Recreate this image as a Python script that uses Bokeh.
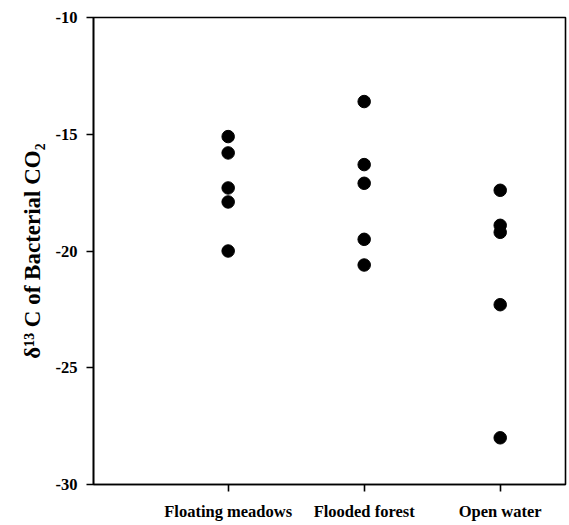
from bokeh.plotting import figure
from bokeh.models import FixedTicker, Range1d
from bokeh.embed import file_html
from bokeh.resources import INLINE

categories = ["Floating meadows", "Flooded forest", "Open water"]
floating_meadows = [-15.1, -15.8, -17.3, -17.9, -20.0]
flooded_forest = [-13.6, -16.3, -17.1, -19.5, -20.6]
open_water = [-17.4, -18.9, -19.2, -22.3, -28.0]
y_ticks = [-30, -25, -20, -15, -10]

series = [floating_meadows, flooded_forest, open_water]

p = figure(width=567, height=523, output_backend="svg", toolbar_location=None,
           x_range=Range1d(-0.99, 2.48), y_range=Range1d(-30, -10),
           min_border_left=93, min_border_right=2, min_border_top=17, min_border_bottom=35)
p.background_fill_color = "white"
p.border_fill_color = "white"
p.outline_line_color = "black"
p.outline_line_width = 1.6
p.xgrid.visible = False
p.ygrid.visible = False

xs, ys = [], []
for i, vals in enumerate(series):
    xs += [i] * len(vals)
    ys += vals
p.scatter(xs, ys, size=12.5, color="black")

font = "Liberation Serif"
p.xaxis.ticker = FixedTicker(ticks=list(range(len(categories))))
p.xaxis.major_label_overrides = {i: c for i, c in enumerate(categories)}
p.yaxis.ticker = FixedTicker(ticks=y_ticks)
p.yaxis.major_label_overrides = {t: str(t) for t in y_ticks}
for ax in (p.xaxis[0], p.yaxis[0]):
    ax.major_label_text_font = font
    ax.major_label_text_font_style = "bold"
    ax.major_label_text_font_size = "16.5px"
    ax.major_label_text_color = "black"
    ax.axis_line_color = "black"
    ax.axis_line_width = 1.6
    ax.major_tick_line_color = "black"
    ax.major_tick_line_width = 1.6
    ax.major_tick_in = 0
    ax.major_tick_out = 7
    ax.minor_tick_line_color = None
p.xaxis.major_label_standoff = 10
p.yaxis.major_label_standoff = 9
p.yaxis.axis_label = "δ¹³ C of Bacterial CO₂"
p.yaxis.axis_label_text_font = font
p.yaxis.axis_label_text_font_style = "bold"
p.yaxis.axis_label_text_font_size = "23px"
p.yaxis.axis_label_text_color = "black"
p.yaxis.axis_label_standoff = 8

open("out.html", "w").write(file_html(p, INLINE))
